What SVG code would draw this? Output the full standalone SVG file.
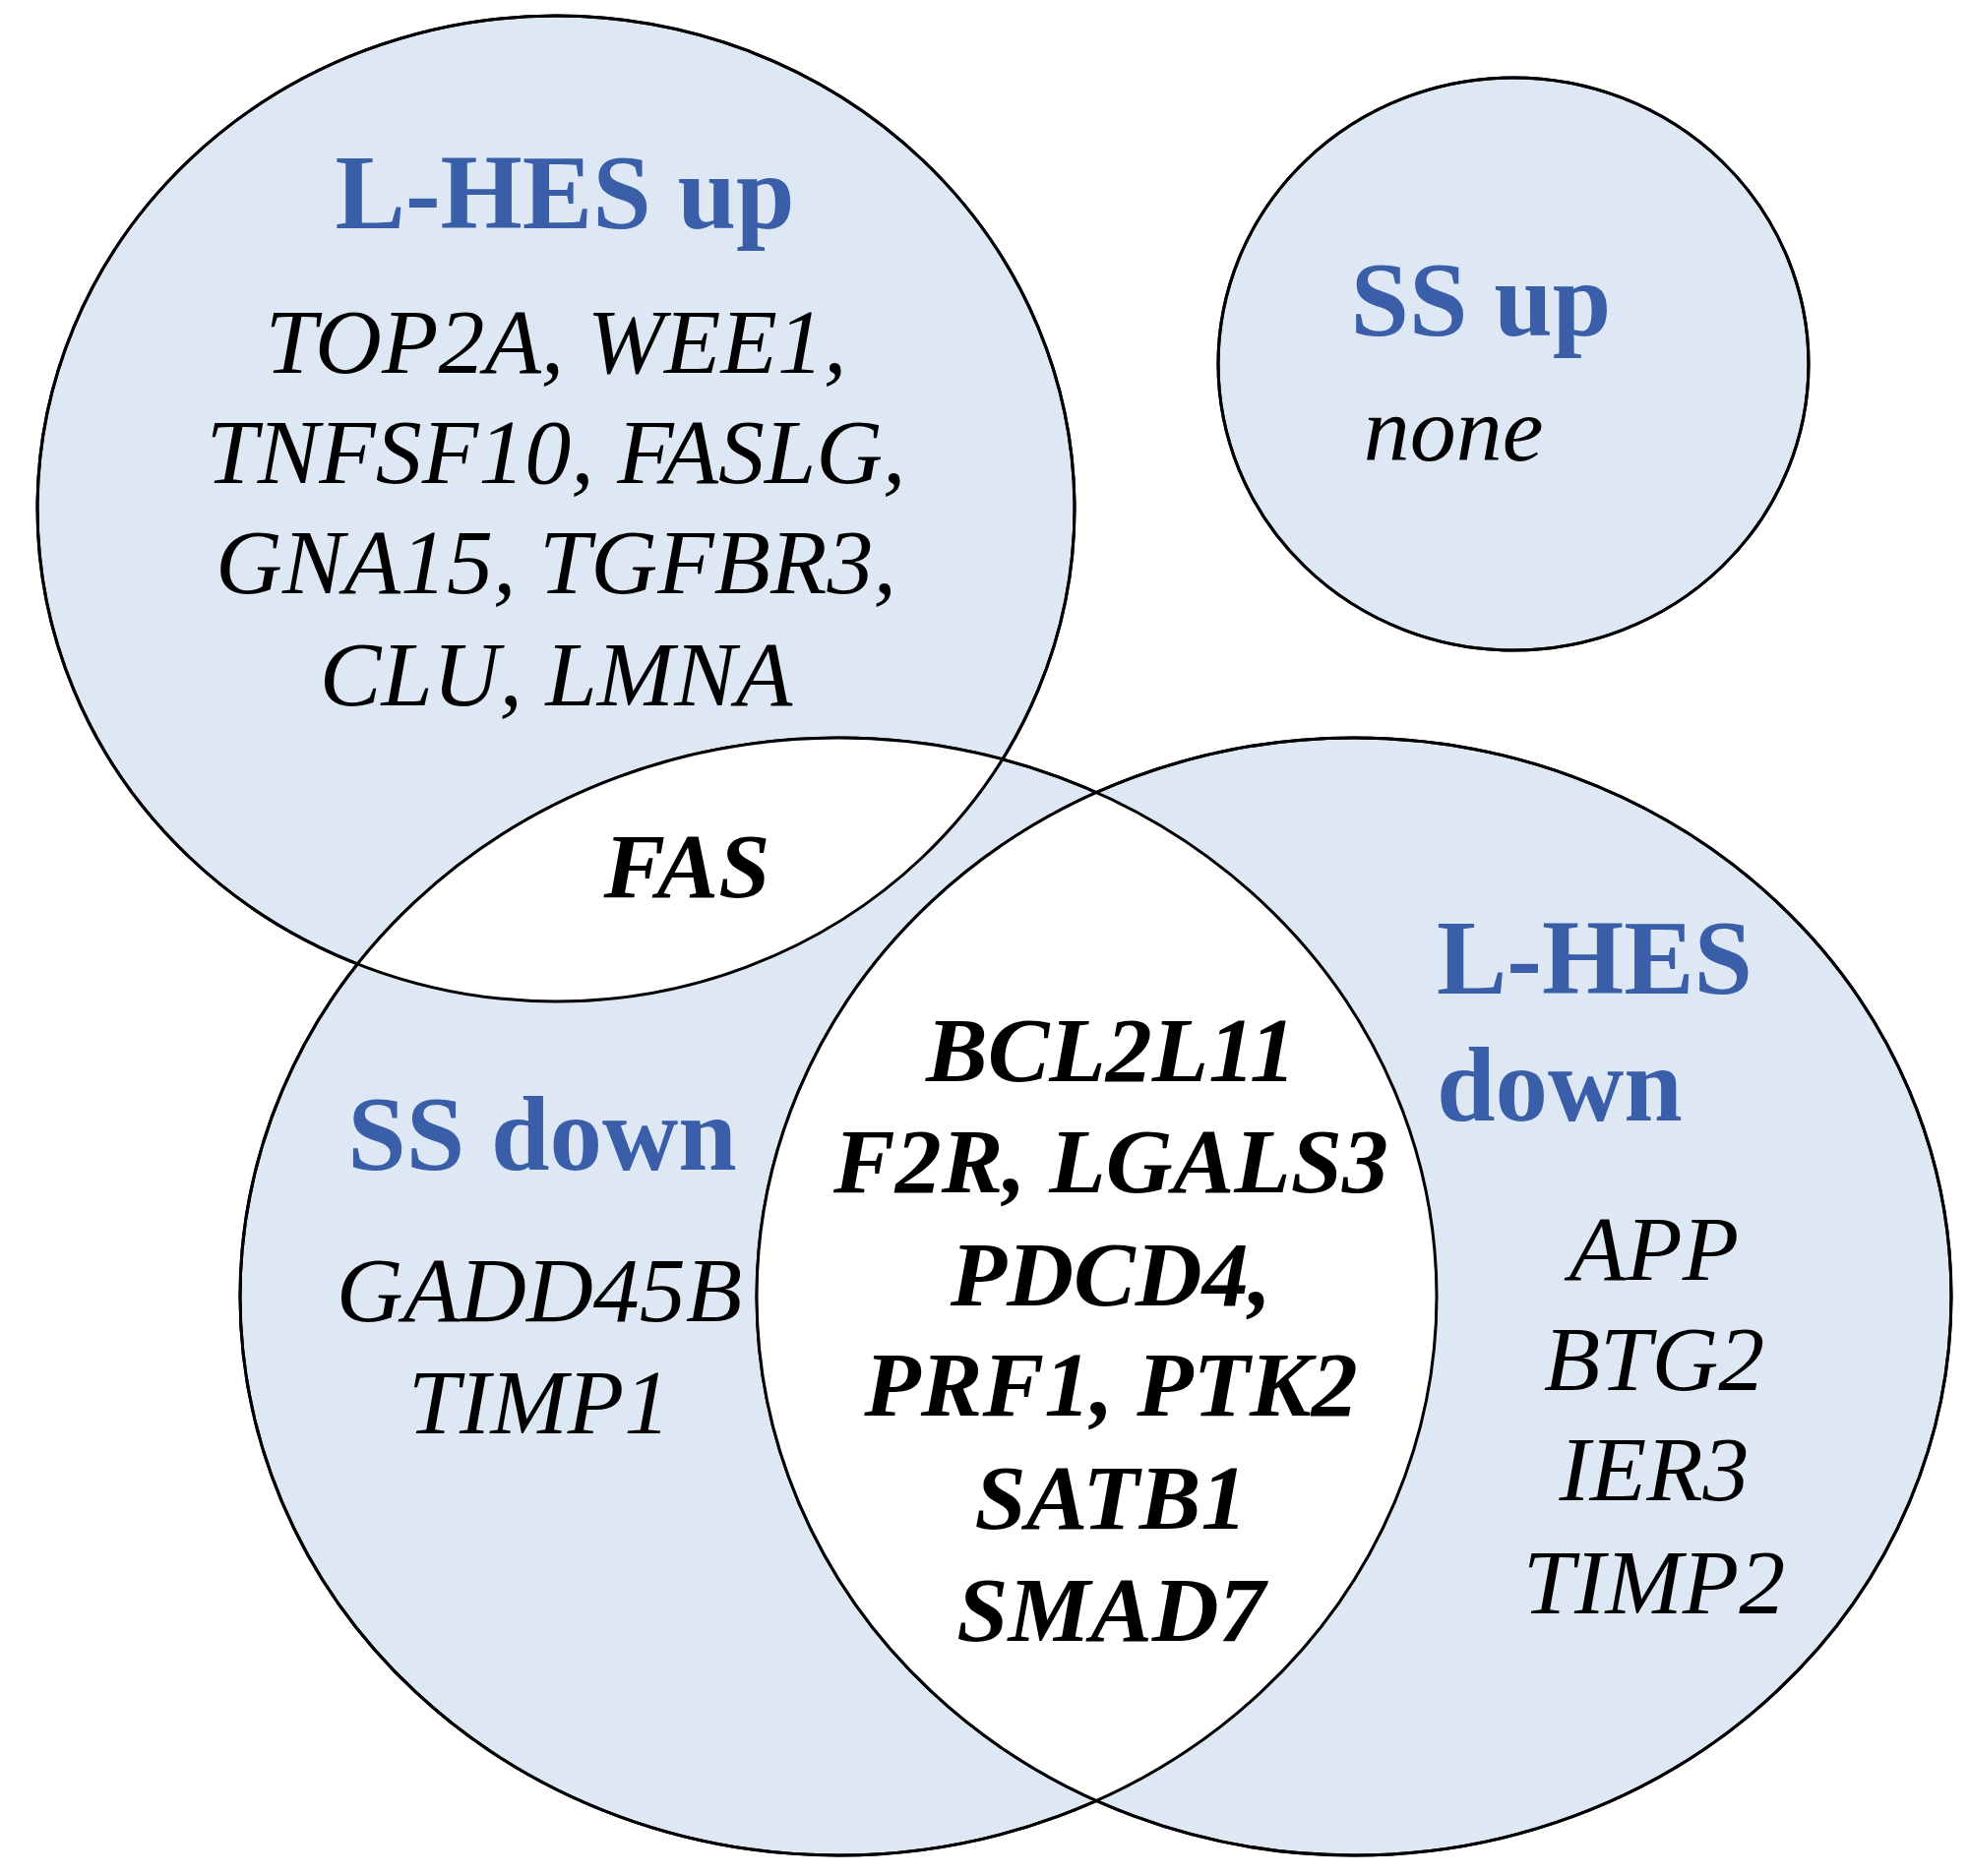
<svg xmlns="http://www.w3.org/2000/svg" width="2000" height="1907" viewBox="0 0 2000 1907">
<style>
.c{fill:#dde8f4;stroke:#000;stroke-width:3}
.w{fill:#fff;stroke:none}
.o{fill:none;stroke:#000;stroke-width:3}
.t{font-family:"Liberation Serif",serif;font-weight:bold;fill:#3a5ea8;font-size:107px}
.g{font-family:"Liberation Serif",serif;font-style:italic;fill:#000;font-size:94px;text-anchor:middle}
.b{font-weight:bold}
</style>
<defs>
<clipPath id="cu"><ellipse cx="565" cy="517" rx="527" ry="501"/></clipPath>
<clipPath id="csd"><ellipse cx="852" cy="1318" rx="608" ry="568"/></clipPath>
</defs>
<g id="fills">
<ellipse class="c" cx="565" cy="517" rx="527" ry="501"/>
<ellipse class="c" cx="1538" cy="370" rx="300" ry="291"/>
<ellipse class="c" cx="852" cy="1318" rx="608" ry="568"/>
<ellipse class="c" cx="1376" cy="1318" rx="607" ry="568"/>
<ellipse class="w" cx="852" cy="1318" rx="608" ry="568" clip-path="url(#cu)"/>
<ellipse class="w" cx="1376" cy="1318" rx="607" ry="568" clip-path="url(#csd)"/>
</g>
<g id="outlines">
<ellipse id="lhes-up" class="o" cx="565" cy="517" rx="527" ry="501"/>
<ellipse id="ss-up" class="o" cx="1538" cy="370" rx="300" ry="291"/>
<ellipse id="ss-down" class="o" cx="852" cy="1318" rx="608" ry="568"/>
<ellipse id="lhes-down" class="o" cx="1376" cy="1318" rx="607" ry="568"/>
</g>
<g id="labels">
<text class="t" x="574" y="232" text-anchor="middle">L-HES up</text>
<text class="g" x="565" y="379">TOP2A, WEE1,</text>
<text class="g" x="565" y="491">TNFSF10, FASLG,</text>
<text class="g" x="565" y="603">GNA15, TGFBR3,</text>
<text class="g" x="565" y="717">CLU, LMNA</text>
<text class="t" x="1505" y="341" text-anchor="middle">SS up</text>
<text class="g" x="1477" y="468">none</text>
<text class="g b" x="698" y="912">FAS</text>
<text class="t" x="551" y="1189" text-anchor="middle">SS down</text>
<text class="g" x="548" y="1343">GADD45B</text>
<text class="g" x="548" y="1457">TIMP1</text>
<text class="g b" x="1129" y="1099">BCL2L11</text>
<text class="g b" x="1129" y="1212">F2R, LGALS3</text>
<text class="g b" x="1129" y="1327">PDCD4,</text>
<text class="g b" x="1129" y="1439">PRF1, PTK2</text>
<text class="g b" x="1129" y="1554">SATB1</text>
<text class="g b" x="1129" y="1668">SMAD7</text>
<text class="t" x="1460" y="1010">L-HES</text>
<text class="t" x="1460" y="1139">down</text>
<text class="g" x="1681" y="1301">APP</text>
<text class="g" x="1681" y="1413">BTG2</text>
<text class="g" x="1681" y="1525">IER3</text>
<text class="g" x="1681" y="1640">TIMP2</text>
</g>
</svg>
